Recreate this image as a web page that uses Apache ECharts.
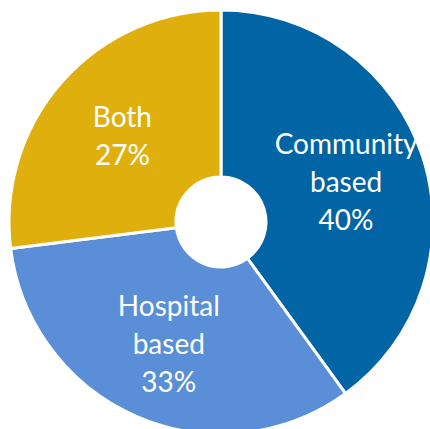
<!DOCTYPE html>
<html>
<head>
<meta charset="utf-8">
<script src="https://cdn.jsdelivr.net/npm/echarts@6/dist/echarts.min.js"></script>
<style>
  html, body { margin: 0; padding: 0; background: #fff; }
  #chart { width: 430px; height: 429px; }
</style>
</head>
<body>
<div id="chart"></div>
<script>
const categories = ['Community\nbased', 'Hospital\nbased', 'Both'];
const values = [40, 33, 27];
const COLORS = ['#0064A5', '#5A8ED6', '#DFB00D'];

const c = echarts.init(document.getElementById('chart'), null, { renderer: 'svg' });
c.setOption({
  animation: false,
  color: COLORS,
  series: [{
    type: 'pie',
    center: [221, 222],
    radius: [45, 212],
    startAngle: 90,
    clockwise: true,
    itemStyle: { borderColor: '#fff', borderWidth: 3 },
    label: {
      show: true,
      position: 'inside',
      color: '#fff',
      fontFamily: 'Lato',
      fontSize: 28,
      lineHeight: 38,
      formatter: p => `${p.name}\n${p.value}%`,
    },
    labelLine: { show: false },
    emphasis: { disabled: true },
    data: categories.map((name, i) => ({ name, value: values[i] })),
  }],
});
</script>
</body>
</html>
